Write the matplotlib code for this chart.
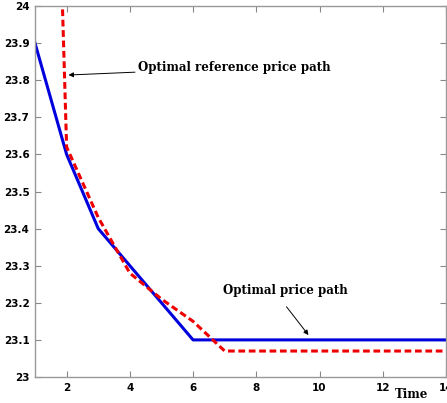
import matplotlib
matplotlib.use("Agg")
import matplotlib.pyplot as plt

# Data.
time = [1, 2, 3, 4, 5, 6, 7, 8, 9, 10, 11, 12, 13, 14]
price_path = [23.9, 23.6, 23.4, 23.3, 23.2, 23.1, 23.1, 23.1, 23.1, 23.1,
              23.1, 23.1, 23.1, 23.1]
reference_path = [26.5, 23.62, 23.43, 23.28, 23.21, 23.15, 23.07, 23.07,
                  23.07, 23.07, 23.07, 23.07, 23.07, 23.07]
x_ticks = [2, 4, 6, 8, 10, 12, 14]
y_ticks = [23.0, 23.1, 23.2, 23.3, 23.4, 23.5, 23.6, 23.7, 23.8, 23.9, 24.0]
y_labels = ['23', '23.1', '23.2', '23.3', '23.4', '23.5', '23.6', '23.7',
            '23.8', '23.9', '24']

fig = plt.figure(figsize=(4.47, 4.03), dpi=100)
ax = fig.add_axes([35 / 447, 26 / 403, 411 / 447, 371 / 403])

ax.plot(time, price_path, color='#0000dd', linewidth=2.2)
ax.plot(time, reference_path, color='#ee0000', linewidth=2.2,
        linestyle=(0, (2.2, 1.2)))

ax.set_xlim(1, 14)
ax.set_ylim(23, 24)
ax.set_xticks(x_ticks)
ax.set_yticks(y_ticks)
ax.set_yticklabels(y_labels)
ax.tick_params(direction='in', top=True, right=True, length=4,
               color='#888888', labelsize=7.5, pad=4)
for lbl in ax.get_xticklabels() + ax.get_yticklabels():
    lbl.set_fontweight('bold')
for spine in ax.spines.values():
    spine.set_color('#999999')
    spine.set_linewidth(1.0)

serif = 'DejaVu Serif'
ax.annotate('Optimal reference price path', xy=(2.06, 23.814),
            xytext=(4.25, 23.833), fontsize=8.45, family=serif,
            fontweight='bold', va='center', ha='left',
            arrowprops=dict(arrowstyle='-|>', color='black', lw=0.7,
                            mutation_scale=7, shrinkA=0, shrinkB=0))
ax.annotate('Optimal price path', xy=(9.65, 23.113),
            xytext=(6.95, 23.232), fontsize=8.45, family=serif,
            fontweight='bold', va='center', ha='left',
            arrowprops=dict(arrowstyle='-|>', color='black', lw=0.7,
                            mutation_scale=7, shrinkA=6, shrinkB=0,
                            relpos=(0.45, 0.0)))

fig.text(412 / 447, 9 / 403, 'Time', fontsize=8.5, family=serif,
         fontweight='bold', ha='center', va='center')

fig.savefig('out.png', dpi=100)
